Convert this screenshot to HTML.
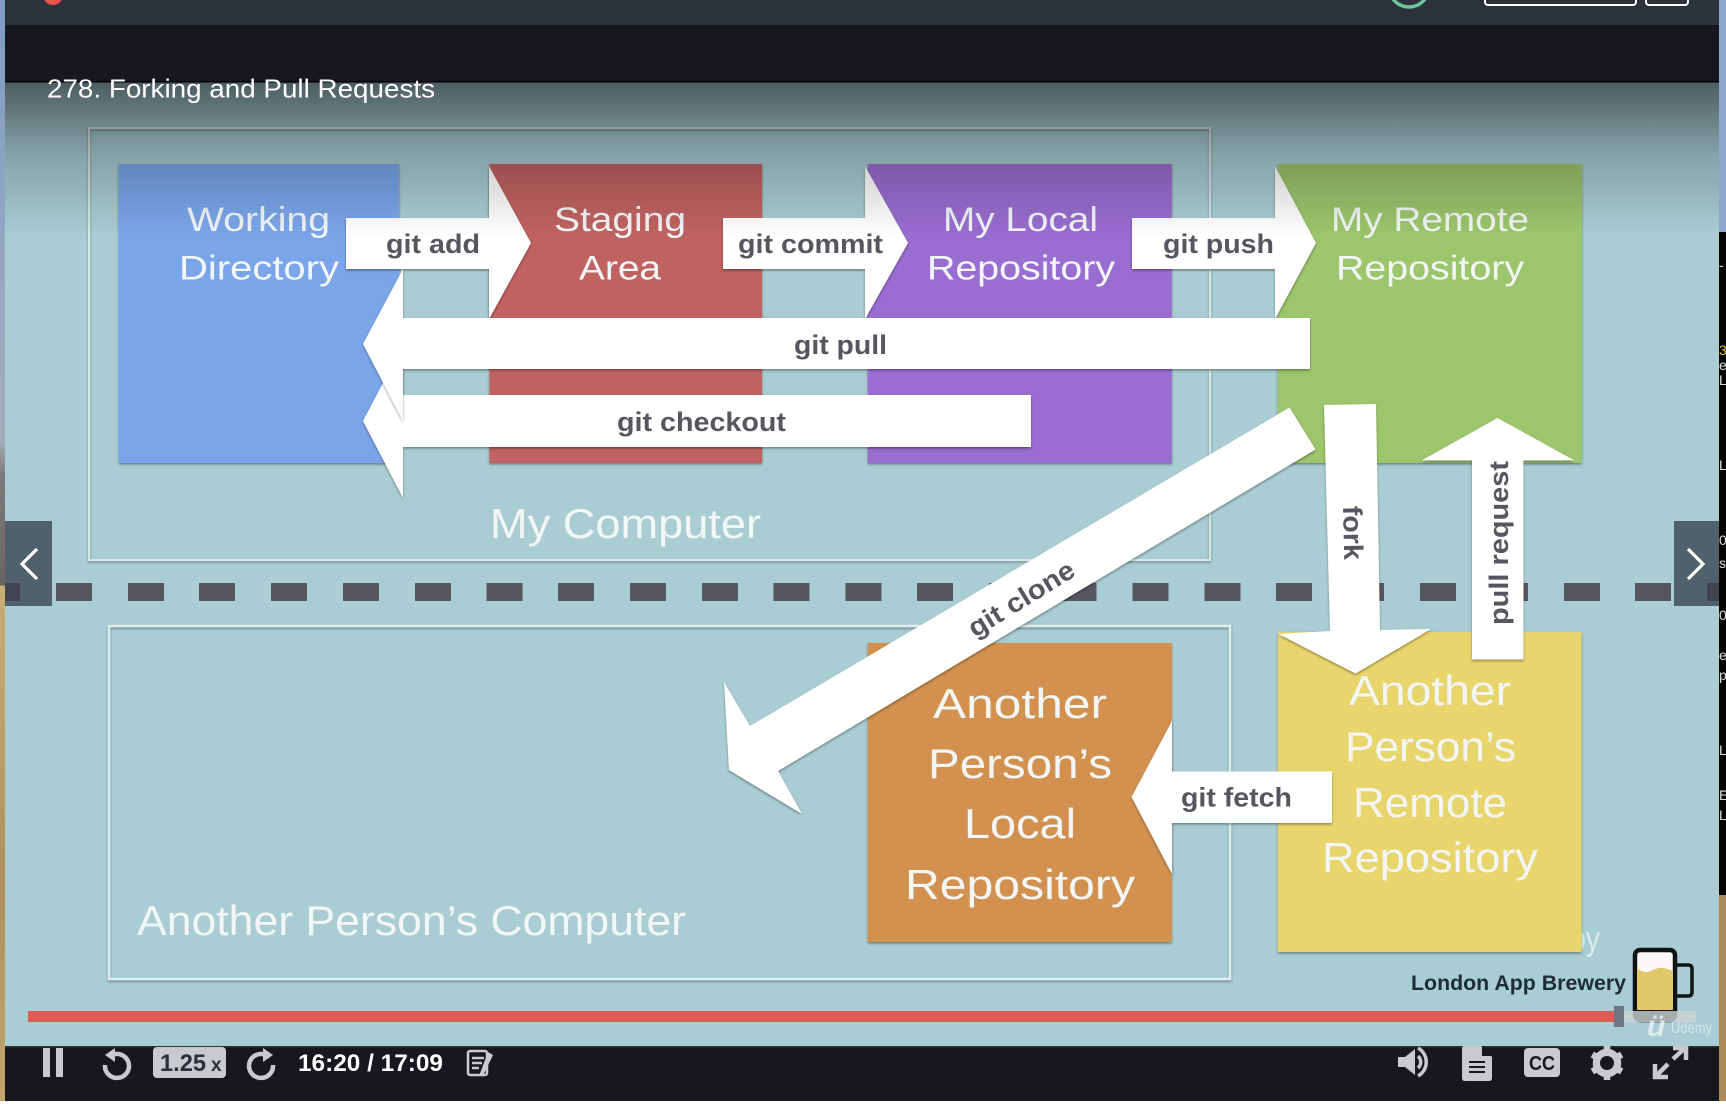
<!DOCTYPE html>
<html><head><meta charset="utf-8"><title>Forking and Pull Requests</title>
<style>
html,body{margin:0;padding:0;width:1726px;height:1104px;overflow:hidden;background:#fff}
svg{display:block}
text{font-family:"Liberation Sans",sans-serif}
.w{fill:#f2f6f7;font-size:34px}
.b{fill:#f2f6f7;font-size:42px}
.l{fill:#56565f;font-size:27px;font-weight:bold}
</style></head><body>
<svg width="1726" height="1104" viewBox="0 0 1726 1104" xmlns="http://www.w3.org/2000/svg">
<defs>
<linearGradient id="ov" x1="0" y1="0" x2="0" y2="1"><stop offset="0" stop-color="#000" stop-opacity=".55"/><stop offset=".45" stop-color="#000" stop-opacity=".22"/><stop offset="1" stop-color="#000" stop-opacity="0"/></linearGradient>
<linearGradient id="ls" x1="0" y1="0" x2="0" y2="1"><stop offset="0" stop-color="#7f9cc6"/><stop offset=".4" stop-color="#a4aebb"/><stop offset=".43" stop-color="#7c7a7c"/><stop offset=".53" stop-color="#6a6468"/><stop offset=".531" stop-color="#c9ae72"/><stop offset=".8" stop-color="#b08f5c"/><stop offset="1" stop-color="#c2a56c"/></linearGradient>
<filter id="s" x="-5%" y="-10%" width="110%" height="120%"><feDropShadow dx="0" dy="1.5" stdDeviation="1.2" flood-color="#000" flood-opacity=".38"/></filter>
</defs>

<!-- side strips -->
<rect x="0" y="0" width="5" height="1104" fill="url(#ls)"/>
<rect x="1719" y="0" width="7" height="232" fill="#8ea6cb"/>
<rect x="1719" y="232" width="7" height="663" fill="#050505"/>
<rect x="1719" y="895" width="7" height="209" fill="#ab8a58"/>
<g fill="#ddd" font-size="14">
<text x="1719" y="270">-</text><text x="1719" y="355" fill="#d8c23a">3</text><text x="1719" y="370">e</text><text x="1719" y="385">L</text><text x="1719" y="470">L</text><text x="1719" y="545">0</text><text x="1719" y="568">s</text><text x="1719" y="620">0</text><text x="1719" y="660">e</text><text x="1719" y="680">p</text><text x="1719" y="755">L</text><text x="1719" y="800">E</text><text x="1719" y="820">L</text>
</g>

<!-- top bars -->
<rect x="5" y="0" width="1714" height="25" fill="#2b323c"/>
<rect x="5" y="25" width="1714" height="57" fill="#16181d"/>
<circle cx="53" cy="-5" r="10" fill="#e8524a"/>
<circle cx="1409" cy="-13" r="20" fill="none" stroke="#6cc59b" stroke-width="3.5"/>
<rect x="1485" y="-10" width="151" height="15" rx="3" fill="none" stroke="#fff" stroke-width="2"/>
<rect x="1646" y="-10" width="42" height="15" rx="3" fill="none" stroke="#fff" stroke-width="2"/>

<!-- slide -->
<rect x="5" y="82" width="1714" height="965" fill="#a9cdd3"/>
<rect x="89" y="128" width="1121" height="432" fill="none" stroke="#dfeef0" stroke-opacity=".85" stroke-width="2" filter="url(#s)"/>
<rect x="109" y="626" width="1121" height="353" fill="none" stroke="#dfeef0" stroke-width="2.5" filter="url(#s)"/>

<text x="1565" y="950" text-anchor="end" font-size="34" fill="#e8f2f3" fill-opacity=".8">Created</text>
<text x="1570" y="950" font-size="34" fill="#e8f2f3" fill-opacity=".8" textLength="30" lengthAdjust="spacingAndGlyphs">by</text>

<g filter="url(#s)">
<rect x="118.6" y="164" width="280.4" height="299" fill="#7aa6e9"/>
<rect x="489.4" y="164" width="272.6" height="299" fill="#c06262"/>
<rect x="867.8" y="164" width="304" height="299" fill="#9a6dd1"/>
<rect x="1277.8" y="164" width="304" height="299" fill="#9cc56c"/>
<rect x="867.8" y="643" width="304" height="299" fill="#d2914f"/>
<rect x="1277.8" y="632" width="303.7" height="320" fill="#e8d56c"/>
</g>

<!-- dashes -->
<g fill="#55565f">
<rect x="5" y="583" width="15" height="18"/>
<rect x="56" y="583" width="36" height="18"/><rect x="128" y="583" width="36" height="18"/><rect x="199" y="583" width="36" height="18"/><rect x="271" y="583" width="36" height="18"/><rect x="343" y="583" width="36" height="18"/><rect x="415" y="583" width="36" height="18"/><rect x="486.5" y="583" width="36" height="18"/><rect x="558" y="583" width="36" height="18"/><rect x="630" y="583" width="36" height="18"/><rect x="702" y="583" width="36" height="18"/><rect x="773.5" y="583" width="36" height="18"/><rect x="845.5" y="583" width="36" height="18"/><rect x="917" y="583" width="36" height="18"/><rect x="989" y="583" width="36" height="18"/><rect x="1060.5" y="583" width="36" height="18"/><rect x="1132.5" y="583" width="36" height="18"/><rect x="1204.5" y="583" width="36" height="18"/><rect x="1276" y="583" width="36" height="18"/><rect x="1348" y="583" width="36" height="18"/><rect x="1420" y="583" width="36" height="18"/><rect x="1492" y="583" width="36" height="18"/><rect x="1564" y="583" width="36" height="18"/><rect x="1635" y="583" width="36" height="18"/><rect x="1707" y="583" width="12" height="18"/>
</g>

<!-- box labels -->
<g class="x">
<text class="w" x="187" y="231" textLength="143" lengthAdjust="spacingAndGlyphs">Working</text>
<text class="w" x="179" y="279.5" textLength="160" lengthAdjust="spacingAndGlyphs">Directory</text>
<text class="w" x="554" y="231" textLength="132" lengthAdjust="spacingAndGlyphs">Staging</text>
<text class="w" x="579" y="279.5" textLength="82" lengthAdjust="spacingAndGlyphs">Area</text>
<text class="w" x="943" y="231" textLength="155" lengthAdjust="spacingAndGlyphs">My Local</text>
<text class="w" x="927" y="279.5" textLength="188" lengthAdjust="spacingAndGlyphs">Repository</text>
<text class="w" x="1331" y="231" textLength="198" lengthAdjust="spacingAndGlyphs">My Remote</text>
<text class="w" x="1336" y="279.5" textLength="188" lengthAdjust="spacingAndGlyphs">Repository</text>
<text class="b" x="490" y="538" textLength="271" lengthAdjust="spacingAndGlyphs">My Computer</text>
<text class="b" x="137" y="935" textLength="549" lengthAdjust="spacingAndGlyphs">Another Person’s Computer</text>
<text class="b" x="933" y="718" textLength="174" lengthAdjust="spacingAndGlyphs">Another</text>
<text class="b" x="928" y="778" textLength="184" lengthAdjust="spacingAndGlyphs">Person’s</text>
<text class="b" x="964" y="838" textLength="112" lengthAdjust="spacingAndGlyphs">Local</text>
<text class="b" x="905" y="899" textLength="230" lengthAdjust="spacingAndGlyphs">Repository</text>
<text class="b" x="1349" y="705" textLength="162" lengthAdjust="spacingAndGlyphs">Another</text>
<text class="b" x="1345" y="761" textLength="171" lengthAdjust="spacingAndGlyphs">Person’s</text>
<text class="b" x="1353" y="817" textLength="154" lengthAdjust="spacingAndGlyphs">Remote</text>
<text class="b" x="1322" y="872" textLength="216" lengthAdjust="spacingAndGlyphs">Repository</text>
</g>

<!-- arrows -->
<g fill="#fff">
<polygon filter="url(#s)" points="346,218 489,218 489,166 531,243 489,319 489,269 346,269"/>
<polygon filter="url(#s)" points="723,218 865,218 865,166 908,243 865,319 865,269 723,269"/>
<polygon filter="url(#s)" points="1132,218 1275,218 1275,166 1316,243 1275,319 1275,269 1132,269"/>
<polygon filter="url(#s)" points="1031,395 403,395 403,345 363,421 403,498 403,447 1031,447"/>
<polygon filter="url(#s)" points="1310,318 403,318 403,269 363,344 403,421 403,369 1310,369"/>
<polygon filter="url(#s)" points="1289.5,407.5 1315.5,449.5 778,771 802,814 729,770 724,682 750,726"/>
<polygon filter="url(#s)" points="1324,405 1376,404 1380,630 1431,629 1355.5,673.5 1278.5,634 1330,631"/>
<polygon filter="url(#s)" points="1497.5,418 1574.5,460.5 1523.5,460.5 1523.5,659.5 1472,659.5 1472,460.5 1421.5,460.5"/>
<polygon filter="url(#s)" points="1332,771.5 1172,771.5 1172,721 1131.5,797 1172,874 1172,823 1332,823"/>
</g>

<!-- arrow labels -->
<text class="l" x="386" y="253" textLength="94" lengthAdjust="spacingAndGlyphs">git add</text>
<text class="l" x="738" y="253" textLength="145" lengthAdjust="spacingAndGlyphs">git commit</text>
<text class="l" x="1163" y="253" textLength="111" lengthAdjust="spacingAndGlyphs">git push</text>
<text class="l" x="794" y="354" textLength="93" lengthAdjust="spacingAndGlyphs">git pull</text>
<text class="l" x="617" y="431" textLength="169" lengthAdjust="spacingAndGlyphs">git checkout</text>
<text class="l" x="1181" y="806.5" textLength="111" lengthAdjust="spacingAndGlyphs">git fetch</text>
<text class="l" transform="translate(975,638) rotate(-31.7)" textLength="120" lengthAdjust="spacingAndGlyphs">git clone</text>
<text class="l" transform="translate(1343,506) rotate(88.7)" textLength="54" lengthAdjust="spacingAndGlyphs">fork</text>
<text class="l" transform="translate(1508,625) rotate(-90)" textLength="164" lengthAdjust="spacingAndGlyphs">pull request</text>

<!-- top shading -->
<rect x="5" y="82" width="1714" height="155" fill="url(#ov)"/>
<rect x="5" y="81" width="1714" height="1.5" fill="#000"/>

<text x="47" y="97.5" font-size="26" fill="#fff" textLength="388" lengthAdjust="spacingAndGlyphs">278. Forking and Pull Requests</text>

<!-- nav buttons -->
<rect x="5" y="521" width="47" height="85" fill="#4d5d66" fill-opacity=".96"/>
<rect x="1674" y="521" width="45" height="85" fill="#4d5d66" fill-opacity=".96"/>
<rect x="5" y="583" width="15" height="18" fill="#3f4450"/>
<rect x="1707" y="583" width="12" height="18" fill="#3f4450"/>
<polyline points="37,549 22,564 37,579" fill="none" stroke="#fff" stroke-width="3.2"/>
<polyline points="1688,549 1703,564 1688,579" fill="none" stroke="#fff" stroke-width="3.2"/>

<!-- brewery logo -->
<text x="1411" y="990" font-size="21" font-weight="bold" fill="#1e2c33" textLength="215" lengthAdjust="spacingAndGlyphs">London App Brewery</text>
<rect x="1635" y="950" width="40" height="70" rx="5" fill="#fdf8fb" stroke="#0f1416" stroke-width="4.5"/>
<path d="M1637 968 q6 5 12 4 q8 -5 14 -4 q6 1 10 3 V1008 q0 2 -3 2 H1640 q-3 0 -3 -2 Z" fill="#e2c76b"/>
<rect x="1637" y="1010" width="36" height="9" fill="#0f1416"/>
<path d="M1677 965 H1688 q4 0 4 4 V992 q0 4 -4 4 H1677" fill="none" stroke="#0f1416" stroke-width="3.5"/>

<!-- progress -->
<rect x="28" y="1011" width="1587" height="11" fill="#dc5c56"/>
<rect x="1624" y="1011" width="72" height="11" fill="#cdd2d6" fill-opacity=".8"/>
<rect x="1614" y="1006" width="10" height="21" fill="#6f7784"/>
<text x="1647" y="1036" font-size="30" font-style="italic" font-weight="bold" font-family="Liberation Serif" fill="#e6f1f2" fill-opacity=".85">ü</text>
<text x="1671" y="1033" font-size="16" fill="#dfecee" fill-opacity=".8" textLength="41" lengthAdjust="spacingAndGlyphs">Udemy</text>

<!-- controls -->
<rect x="5" y="1047" width="1714" height="54" fill="#16181e"/>
<rect x="5" y="1046" width="1714" height="1.5" fill="#2d3136"/>
<rect x="0" y="1101" width="1726" height="3" fill="#fff"/>
<g fill="#c8cacd">
<rect x="43" y="1048" width="7" height="29"/><rect x="56" y="1048" width="7" height="29"/>
<rect x="153" y="1047" width="73" height="31" rx="4"/>
</g>
<path d="M112 1055 A12 12 0 1 1 105 1065" fill="none" stroke="#c8cacd" stroke-width="4.5"/>
<polygon points="105,1055 115,1048 115,1062" fill="#c8cacd"/>
<path d="M266 1055 A12 12 0 1 0 273 1065" fill="none" stroke="#c8cacd" stroke-width="4.5"/>
<polygon points="273,1055 263,1048 263,1062" fill="#c8cacd"/>
<text x="160" y="1071" font-size="24" font-weight="bold" fill="#2b2f3a" textLength="46" lengthAdjust="spacingAndGlyphs">1.25</text>
<text x="211" y="1071" font-size="19" font-weight="bold" fill="#2b2f3a">x</text>
<text x="298" y="1071" font-size="24" font-weight="bold" fill="#fff" textLength="145" lengthAdjust="spacingAndGlyphs">16:20 / 17:09</text>
<!-- notes icon -->
<rect x="468" y="1051" width="19" height="24" rx="2" fill="none" stroke="#c8cacd" stroke-width="2.5"/>
<g stroke="#c8cacd" stroke-width="2.5"><line x1="472" y1="1058" x2="484" y2="1058"/><line x1="472" y1="1063" x2="482" y2="1063"/><line x1="472" y1="1068" x2="479" y2="1068"/></g>
<polygon points="488,1052 493,1055 483,1076 479,1076" fill="#c8cacd"/>
<!-- speaker -->
<polygon points="1398,1057 1405,1057 1415,1049 1415,1075 1405,1067 1398,1067" fill="#c8cacd"/>
<path d="M1418 1056 a8 8 0 0 1 0 12 M1418 1048 a16 16 0 0 1 0 28" fill="none" stroke="#c8cacd" stroke-width="3.5"/>
<!-- doc -->
<path d="M1464 1046 H1481 L1492 1057 V1078 q0 3 -3 3 H1465 q-3 0 -3 -3 V1049 q0 -3 2 -3 Z" fill="#c8cacd"/>
<polygon points="1482,1046 1492,1056 1482,1056" fill="#16181e"/>
<g stroke="#16181e" stroke-width="2"><line x1="1469" y1="1062" x2="1485" y2="1062"/><line x1="1469" y1="1067" x2="1485" y2="1067"/><line x1="1469" y1="1072" x2="1485" y2="1072"/></g>
<!-- cc -->
<rect x="1524" y="1048" width="36" height="29" rx="4" fill="#c8cacd"/>
<text x="1542" y="1070" text-anchor="middle" font-size="20" font-weight="bold" fill="#16181e" textLength="26" lengthAdjust="spacingAndGlyphs">CC</text>
<!-- gear -->
<circle cx="1607" cy="1063" r="10.5" fill="none" stroke="#c8cacd" stroke-width="7.5"/>
<g stroke="#c8cacd" stroke-width="6.5"><line x1="1607" y1="1046" x2="1607" y2="1080"/><line x1="1592.3" y1="1054.5" x2="1621.7" y2="1071.5"/><line x1="1592.3" y1="1071.5" x2="1621.7" y2="1054.5"/></g>
<circle cx="1607" cy="1063" r="7" fill="#16181e"/>
<!-- expand -->
<g stroke="#c8cacd" stroke-width="4.5" fill="none"><line x1="1656" y1="1076" x2="1668" y2="1064"/><line x1="1673" y1="1059" x2="1685" y2="1048"/></g>
<polyline points="1655,1064 1655,1077 1668,1077" fill="none" stroke="#c8cacd" stroke-width="4.5"/>
<polyline points="1673,1048 1686,1048 1686,1060" fill="none" stroke="#c8cacd" stroke-width="4.5"/>
</svg>
</body></html>
